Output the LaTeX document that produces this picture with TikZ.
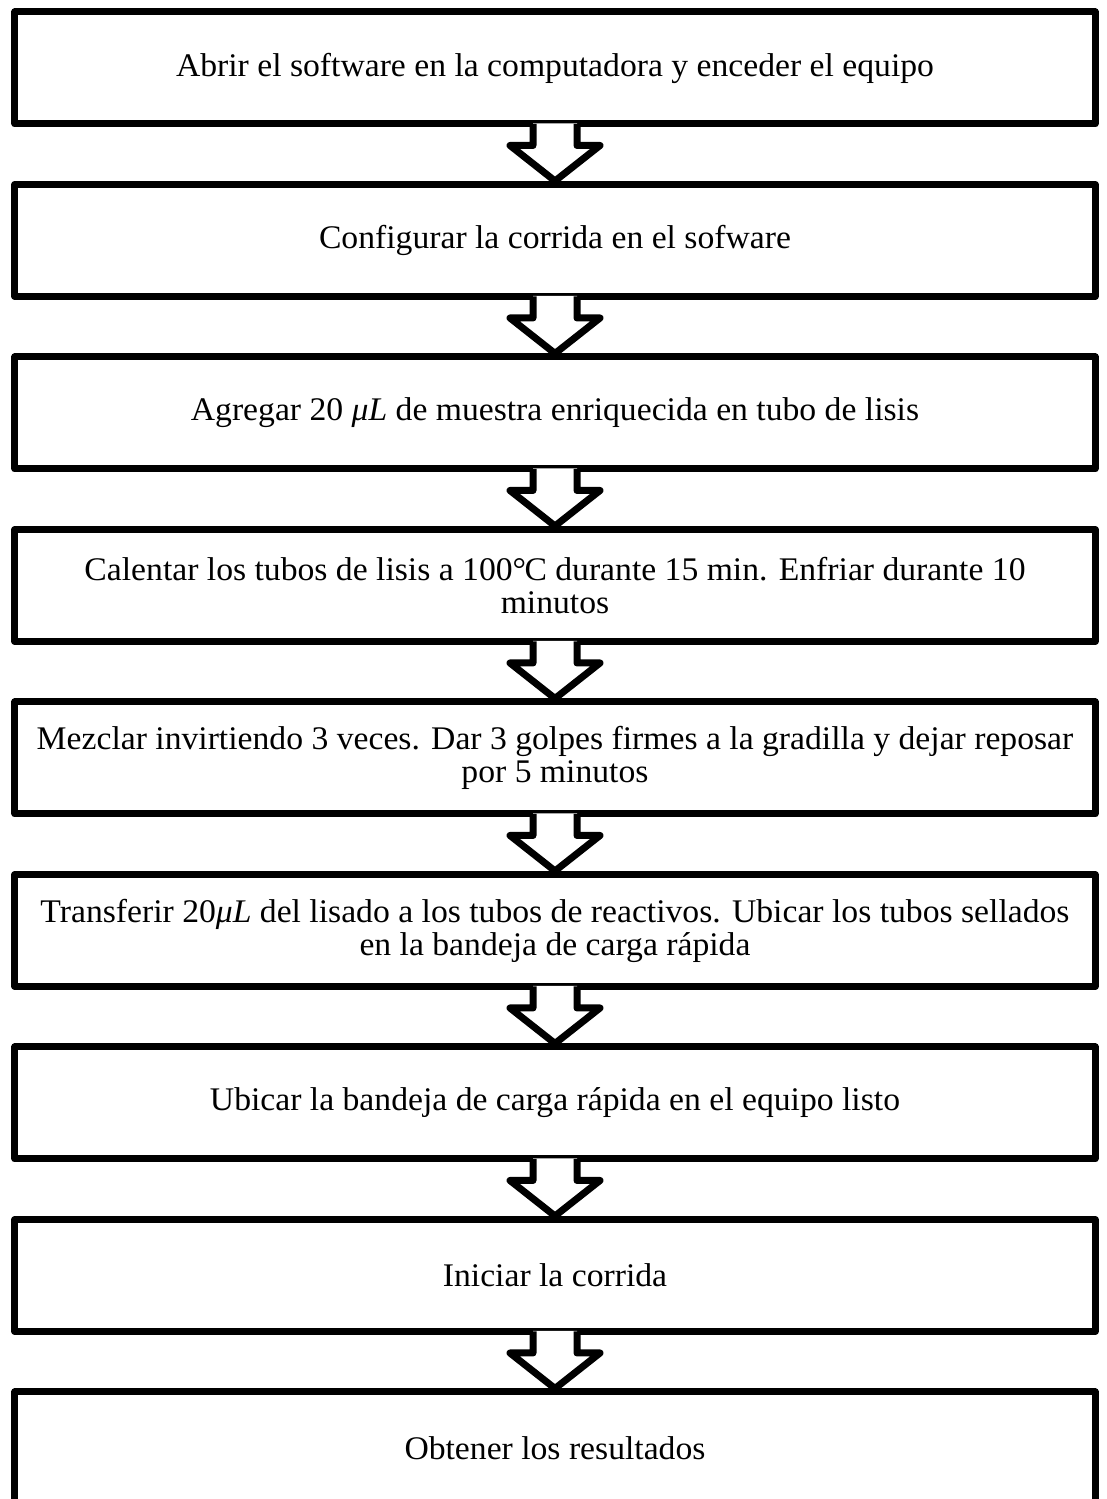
\documentclass[tikz,border=0pt]{standalone}
\usepackage{fontspec}
\setmainfont[FakeStretch=1.02]{Liberation Serif}
\usetikzlibrary{calc}
\tikzset{
  stepbox/.style={draw=black, line width=7bp, fill=white, line join=round,
    minimum width=1080bp, minimum height=112bp, inner sep=0pt,
    align=center, font=\fontsize{33bp}{33bp}\selectfont},
  blockarrow/.style={draw=black, line width=7bp, line join=round, line cap=butt},
}
\newcommand{\flowarrow}[2]{%
  \fill[white] ($(#1.south)+(-22,4)$) -- ($(#1.south)+(-22,-18)$) -- ($(#1.south)+(-45,-18)$)
     -- (#2.north) -- ($(#1.south)+(45,-18)$) -- ($(#1.south)+(22,-18)$) -- ($(#1.south)+(22,4)$) -- cycle;
  \draw[blockarrow] ($(#1.south)+(-22,3.5)$) -- ($(#1.south)+(-22,-18)$) -- ($(#1.south)+(-45,-18)$)
     -- (#2.north) -- ($(#1.south)+(45,-18)$) -- ($(#1.south)+(22,-18)$) -- ($(#1.south)+(22,3.5)$);
}
\begin{document}
\begin{tikzpicture}[x=1bp,y=1bp]
\useasboundingbox (0,0) rectangle (1106,1499);
\begin{scope}
\clip (0,0) rectangle (1106,1499);
\node[stepbox] (b1) at (555,{1499-68}) {Abrir el software en la computadora y enceder el equipo};
\node[stepbox] (b2) at (555,{1499-68-172.5}) {Configurar la corrida en el sofware};
\node[stepbox] (b3) at (555,{1499-68-2*172.5}) {Agregar 20 {\itshape μL} de muestra enriquecida en tubo de lisis};
\node[stepbox] (b4) at (555,{1499-68-3*172.5}) {Calentar los tubos de lisis a 100°\kern-0.05em C durante 15 min. Enfriar durante 10\\minutos};
\node[stepbox] (b5) at (555,{1499-68-4*172.5}) {Mezclar invirtiendo 3 veces. Dar 3 golpes firmes a la gradilla y dejar reposar\\por 5 minutos};
\node[stepbox] (b6) at (555,{1499-68-5*172.5}) {Transferir 20{\itshape μL} del lisado a los tubos de reactivos. Ubicar los tubos sellados\\en la bandeja de carga rápida};
\node[stepbox] (b7) at (555,{1499-68-6*172.5}) {Ubicar la bandeja de carga rápida en el equipo listo};
\node[stepbox] (b8) at (555,{1499-68-7*172.5}) {Iniciar la corrida};
\node[stepbox] (b9) at (555,{1499-68-8*172.5}) {Obtener los resultados};
\flowarrow{b1}{b2}
\flowarrow{b2}{b3}
\flowarrow{b3}{b4}
\flowarrow{b4}{b5}
\flowarrow{b5}{b6}
\flowarrow{b6}{b7}
\flowarrow{b7}{b8}
\flowarrow{b8}{b9}
\end{scope}
\end{tikzpicture}
\end{document}
